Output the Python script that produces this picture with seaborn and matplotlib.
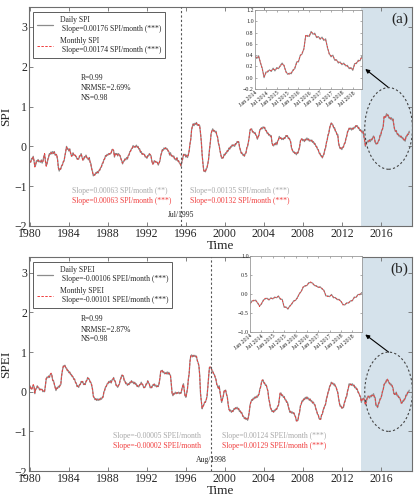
import numpy as np
import pandas as pd
import matplotlib
matplotlib.use("Agg")
import matplotlib.pyplot as plt
from matplotlib.patches import Ellipse
import seaborn as sns

# ---------------- data (monthly, Jan 1980 - Dec 2018) ----------------
start_year = 1980
end_year = 2018

spi_monthly = [
    -0.40,-0.38,-0.33,-0.30,-0.27,-0.35,-0.52,-0.45,-0.38,-0.36,-0.35,-0.37,
    -0.39,-0.38,-0.36,-0.40,-0.38,-0.28,-0.18,-0.35,-0.50,-0.42,-0.35,-0.25,
    -0.20,-0.18,-0.16,-0.18,-0.15,-0.17,-0.15,-0.20,-0.22,-0.20,-0.35,-0.55,
    -0.60,-0.58,-0.55,-0.50,-0.45,-0.40,-0.35,-0.25,-0.12,-0.02,-0.05,-0.08,
    -0.10,-0.08,-0.15,-0.25,-0.22,-0.18,-0.20,-0.24,-0.22,-0.28,-0.30,-0.33,
    -0.30,-0.26,-0.22,-0.20,-0.25,-0.35,-0.32,-0.28,-0.25,-0.24,-0.27,-0.32,
    -0.32,-0.30,-0.38,-0.45,-0.55,-0.65,-0.72,-0.73,-0.70,-0.68,-0.66,-0.65,
    -0.65,-0.62,-0.58,-0.55,-0.50,-0.45,-0.40,-0.35,-0.30,-0.25,-0.23,-0.22,
    -0.20,-0.20,-0.18,-0.20,-0.15,-0.10,-0.07,-0.12,-0.25,-0.20,-0.18,-0.20,
    -0.22,-0.20,-0.20,-0.25,-0.30,-0.38,-0.42,-0.40,-0.35,-0.33,-0.32,-0.30,
    -0.30,-0.25,-0.20,-0.15,-0.10,-0.08,-0.03,0.00,0.00,-0.02,0.00,0.01,
    0.00,-0.02,-0.05,-0.08,-0.13,-0.15,-0.18,-0.20,-0.18,-0.22,-0.25,-0.28,
    -0.28,-0.25,-0.22,-0.20,-0.20,-0.25,-0.35,-0.45,-0.42,-0.38,-0.37,-0.40,
    -0.38,-0.42,-0.45,-0.43,-0.35,-0.25,-0.15,-0.10,-0.08,-0.06,-0.05,-0.05,
    -0.05,-0.08,-0.10,-0.15,-0.20,-0.18,-0.22,-0.25,-0.24,-0.26,-0.30,-0.33,
    -0.33,-0.30,-0.35,-0.38,-0.40,-0.45,-0.48,-0.40,-0.30,-0.22,-0.20,-0.22,
    -0.25,-0.24,-0.26,-0.22,-0.10,0.05,0.19,0.40,0.52,0.55,0.54,0.56,
    0.57,0.58,0.55,0.52,0.55,0.50,0.35,0.10,-0.20,-0.45,-0.60,-0.64,
    -0.62,-0.58,-0.52,-0.45,-0.30,-0.10,0.10,0.30,0.40,0.42,0.40,0.38,
    0.38,0.36,0.30,0.22,0.10,0.00,-0.10,-0.22,-0.28,-0.30,-0.27,-0.22,
    -0.20,-0.18,-0.15,-0.12,-0.10,-0.06,-0.05,-0.02,0.00,0.02,0.03,0.02,
    0.02,0.05,0.08,0.10,0.12,0.10,0.00,-0.10,-0.15,-0.18,-0.20,-0.22,
    -0.23,-0.20,-0.15,-0.05,0.02,0.10,0.25,0.40,0.44,0.42,0.38,0.35,
    0.35,0.33,0.30,0.25,0.20,0.22,0.30,0.40,0.44,0.45,0.46,0.47,
    0.48,0.46,0.42,0.38,0.35,0.32,0.30,0.28,0.27,0.25,0.10,0.02,
    0.03,0.05,0.06,0.08,0.06,0.12,0.18,0.23,0.22,0.20,0.19,0.18,
    0.19,0.20,0.22,0.25,0.27,0.25,0.22,0.19,0.18,0.10,-0.02,-0.10,
    -0.12,-0.15,-0.16,-0.18,-0.19,-0.17,-0.15,-0.10,0.00,0.12,0.19,0.17,
    0.16,0.15,0.14,0.16,0.18,0.19,0.18,0.17,0.15,0.14,0.15,0.14,
    0.12,0.10,0.08,0.05,0.02,-0.02,-0.05,-0.10,-0.15,-0.19,-0.22,-0.25,
    -0.27,-0.25,-0.18,-0.10,-0.02,0.08,0.18,0.27,0.35,0.45,0.55,0.57,
    0.57,0.52,0.48,0.45,0.40,0.35,0.31,0.28,0.10,-0.02,-0.04,-0.05,
    -0.06,-0.04,0.00,0.05,0.10,0.18,0.27,0.35,0.42,0.44,0.45,0.44,
    0.43,0.44,0.45,0.46,0.48,0.50,0.52,0.50,0.48,0.45,0.42,0.40,
    0.37,0.36,0.37,0.28,0.15,0.02,0.08,0.12,0.12,0.13,0.15,0.14,
    0.16,0.18,0.20,0.24,0.23,0.10,0.08,0.06,0.09,0.12,0.18,0.26,
    0.30,0.38,0.44,0.50,0.76,0.73,0.75,0.80,0.79,0.77,0.73,0.71,
    0.70,0.70,0.68,0.67,0.55,0.41,0.39,0.38,0.33,0.30,0.28,0.26,
    0.25,0.24,0.23,0.20,0.18,0.16,0.15,0.23,0.27,0.29,0.32,0.36,
]

spi_daily = [
    -0.38,-0.40,-0.30,-0.32,-0.25,-0.38,-0.50,-0.47,-0.36,-0.38,-0.33,-0.39,
    -0.37,-0.40,-0.34,-0.42,-0.36,-0.26,-0.20,-0.37,-0.48,-0.44,-0.33,-0.27,
    -0.18,-0.20,-0.14,-0.19,-0.13,-0.18,-0.13,-0.22,-0.20,-0.23,-0.33,-0.53,
    -0.62,-0.56,-0.57,-0.48,-0.47,-0.38,-0.37,-0.23,-0.14,0.00,-0.07,-0.06,
    -0.12,-0.06,-0.17,-0.23,-0.24,-0.16,-0.22,-0.22,-0.24,-0.26,-0.32,-0.31,
    -0.32,-0.24,-0.24,-0.18,-0.27,-0.33,-0.34,-0.26,-0.27,-0.22,-0.29,-0.30,
    -0.34,-0.28,-0.40,-0.43,-0.57,-0.63,-0.74,-0.71,-0.72,-0.66,-0.68,-0.63,
    -0.67,-0.60,-0.60,-0.53,-0.52,-0.43,-0.42,-0.33,-0.32,-0.23,-0.25,-0.20,
    -0.22,-0.18,-0.20,-0.18,-0.17,-0.08,-0.09,-0.10,-0.27,-0.18,-0.20,-0.18,
    -0.24,-0.18,-0.22,-0.23,-0.32,-0.36,-0.44,-0.38,-0.37,-0.31,-0.34,-0.28,
    -0.32,-0.23,-0.22,-0.13,-0.12,-0.06,-0.05,0.02,-0.02,0.00,-0.02,0.03,
    -0.02,0.00,-0.07,-0.06,-0.15,-0.13,-0.20,-0.18,-0.20,-0.20,-0.27,-0.26,
    -0.30,-0.23,-0.24,-0.18,-0.22,-0.23,-0.37,-0.43,-0.44,-0.36,-0.39,-0.38,
    -0.40,-0.40,-0.47,-0.41,-0.37,-0.23,-0.17,-0.08,-0.10,-0.04,-0.07,-0.03,
    -0.07,-0.06,-0.12,-0.13,-0.22,-0.16,-0.24,-0.23,-0.26,-0.24,-0.32,-0.31,
    -0.35,-0.28,-0.37,-0.36,-0.42,-0.43,-0.50,-0.38,-0.32,-0.20,-0.22,-0.20,
    -0.27,-0.22,-0.28,-0.20,-0.12,0.07,0.17,0.42,0.50,0.57,0.52,0.58,
    0.55,0.60,0.53,0.54,0.53,0.52,0.33,0.12,-0.22,-0.43,-0.62,-0.62,
    -0.64,-0.56,-0.54,-0.43,-0.32,-0.08,0.08,0.32,0.38,0.44,0.38,0.40,
    0.36,0.38,0.28,0.24,0.08,0.02,-0.12,-0.20,-0.30,-0.28,-0.29,-0.20,
    -0.22,-0.16,-0.17,-0.10,-0.12,-0.04,-0.07,0.00,-0.02,0.04,0.01,0.04,
    0.00,0.07,0.06,0.12,0.10,0.12,-0.02,-0.08,-0.17,-0.16,-0.22,-0.20,
    -0.25,-0.18,-0.17,-0.03,0.00,0.12,0.23,0.42,0.42,0.44,0.36,0.37,
    0.33,0.35,0.28,0.27,0.18,0.24,0.28,0.42,0.42,0.47,0.44,0.49,
    0.46,0.48,0.40,0.40,0.33,0.34,0.28,0.30,0.25,0.27,0.08,0.04,
    0.01,0.07,0.04,0.10,0.04,0.14,0.16,0.25,0.20,0.22,0.17,0.20,
    0.17,0.22,0.20,0.27,0.25,0.27,0.20,0.21,0.16,0.12,-0.04,-0.08,
    -0.14,-0.13,-0.18,-0.16,-0.21,-0.15,-0.17,-0.08,-0.02,0.14,0.17,0.19,
    0.14,0.17,0.12,0.18,0.16,0.21,0.16,0.19,0.13,0.16,0.13,0.16,
    0.10,0.12,0.06,0.07,0.00,0.00,-0.07,-0.08,-0.17,-0.17,-0.24,-0.23,
    -0.29,-0.23,-0.20,-0.08,-0.04,0.10,0.16,0.29,0.33,0.47,0.53,0.59,
    0.55,0.54,0.46,0.47,0.38,0.37,0.29,0.30,0.08,0.00,-0.06,-0.03,
    -0.08,-0.02,-0.02,0.07,0.08,0.20,0.25,0.37,0.40,0.46,0.43,0.46,
    0.41,0.46,0.43,0.48,0.46,0.52,0.50,0.52,0.46,0.47,0.40,0.42,
    0.39,0.34,0.39,0.26,0.17,0.00,0.10,0.10,0.14,0.11,0.17,0.12,
    0.18,0.16,0.22,0.26,0.21,0.12,0.06,0.08,0.07,0.14,0.16,0.28,
    0.28,0.40,0.42,0.52,0.74,0.75,0.73,0.82,0.77,0.79,0.71,0.73,
    0.68,0.72,0.66,0.69,0.53,0.43,0.37,0.40,0.31,0.32,0.26,0.28,
    0.23,0.26,0.21,0.22,0.16,0.18,0.13,0.25,0.25,0.31,0.30,0.38,
]

spei_monthly = [
    0.13,0.10,0.05,0.10,0.18,0.12,-0.03,0.05,0.10,0.13,0.12,0.08,
    0.06,0.05,0.08,0.04,0.02,0.00,0.02,0.15,0.34,0.35,0.37,0.38,
    0.38,0.42,0.47,0.40,0.30,0.26,0.20,0.10,0.05,0.08,0.10,0.12,
    0.13,0.15,0.20,0.40,0.55,0.63,0.67,0.65,0.62,0.58,0.55,0.52,
    0.50,0.48,0.45,0.42,0.40,0.36,0.33,0.30,0.25,0.20,0.15,0.13,
    0.13,0.16,0.20,0.24,0.26,0.24,0.20,0.18,0.20,0.25,0.30,0.34,
    0.34,0.30,0.26,0.22,0.18,0.05,-0.10,-0.16,-0.18,-0.19,-0.20,-0.20,
    -0.20,-0.20,-0.19,-0.18,-0.17,-0.16,-0.12,-0.02,0.05,0.10,0.15,0.18,
    0.22,0.24,0.25,0.26,0.24,0.28,0.32,0.34,0.30,0.25,0.18,0.13,
    0.13,0.15,0.20,0.28,0.35,0.40,0.42,0.38,0.30,0.25,0.22,0.20,
    0.18,0.18,0.20,0.22,0.24,0.26,0.25,0.23,0.22,0.22,0.20,0.18,
    0.15,0.13,0.14,0.16,0.20,0.22,0.20,0.16,0.12,0.10,0.14,0.18,
    0.22,0.26,0.24,0.18,0.12,0.10,0.12,0.15,0.18,0.18,0.16,0.15,
    0.14,0.13,0.15,0.20,0.35,0.50,0.55,0.52,0.50,0.48,0.47,0.46,
    0.47,0.48,0.46,0.47,0.45,0.40,0.20,-0.05,-0.08,-0.06,-0.04,-0.03,
    -0.03,-0.04,-0.02,-0.03,-0.03,-0.04,-0.02,0.05,0.15,0.18,0.05,-0.12,
    -0.12,-0.05,0.10,0.30,0.47,0.75,0.92,0.91,0.90,0.90,0.91,0.90,
    0.90,0.88,0.80,0.72,0.67,0.40,-0.03,-0.25,-0.41,-0.38,-0.32,-0.28,
    -0.25,-0.22,-0.10,0.10,0.40,0.60,0.63,0.60,0.55,0.50,0.47,0.42,
    0.38,0.30,0.20,0.13,0.10,0.13,0.00,-0.15,-0.25,-0.20,-0.10,0.00,
    0.05,0.02,-0.05,-0.15,-0.30,-0.45,-0.47,-0.48,-0.50,-0.50,-0.48,-0.45,
    -0.43,-0.42,-0.41,-0.41,-0.42,-0.44,-0.48,-0.50,-0.52,-0.55,-0.60,-0.64,
    -0.66,-0.67,-0.68,-0.69,-0.70,-0.65,-0.50,-0.35,-0.25,-0.22,-0.20,-0.18,
    -0.16,-0.15,-0.14,-0.13,-0.12,-0.10,-0.05,0.05,0.13,0.22,0.30,0.28,
    0.24,0.20,0.18,0.15,0.10,0.00,-0.16,-0.28,-0.38,-0.45,-0.48,-0.50,
    -0.50,-0.48,-0.46,-0.45,-0.42,-0.38,-0.33,-0.20,-0.03,-0.05,-0.08,-0.10,
    -0.12,-0.14,-0.18,-0.22,-0.25,-0.28,-0.35,-0.45,-0.50,-0.51,-0.52,-0.53,
    -0.53,-0.55,-0.58,-0.65,-0.72,-0.74,-0.70,-0.60,-0.50,-0.37,-0.30,-0.25,
    -0.22,-0.20,-0.18,-0.16,-0.16,-0.15,-0.16,-0.18,-0.20,-0.20,-0.22,-0.25,
    -0.27,-0.28,-0.30,-0.35,-0.42,-0.50,-0.55,-0.60,-0.66,-0.70,-0.68,-0.60,
    -0.55,-0.48,-0.40,-0.37,-0.30,-0.20,-0.10,-0.03,0.05,0.12,0.18,0.22,
    0.22,0.20,0.19,0.18,0.15,0.10,0.05,-0.03,-0.15,-0.30,-0.35,-0.38,
    -0.40,-0.41,-0.38,-0.30,-0.22,-0.16,-0.10,0.00,0.10,0.18,0.19,0.18,
    0.18,0.18,0.17,0.15,0.12,0.10,0.08,0.05,0.00,-0.05,-0.08,-0.15,
    -0.25,-0.20,-0.16,-0.18,-0.22,-0.33,-0.25,-0.18,-0.11,-0.13,-0.14,-0.12,
    -0.11,-0.10,-0.08,-0.07,-0.12,-0.16,-0.33,-0.36,-0.38,-0.33,-0.25,-0.20,
    -0.15,-0.11,0.02,0.05,0.19,0.20,0.24,0.28,0.32,0.27,0.24,0.20,
    0.19,0.17,0.15,0.08,-0.03,-0.07,-0.05,-0.03,-0.08,-0.11,-0.13,-0.16,
    -0.18,-0.29,-0.27,-0.25,-0.22,-0.20,-0.16,-0.10,-0.07,-0.03,0.00,0.02,
]

spei_daily = [
    0.15,0.08,0.07,0.12,0.16,0.14,-0.05,0.07,0.08,0.15,0.10,0.10,
    0.04,0.07,0.06,0.06,0.00,0.02,0.00,0.17,0.32,0.37,0.35,0.40,
    0.36,0.44,0.45,0.42,0.28,0.28,0.18,0.12,0.03,0.10,0.08,0.14,
    0.11,0.17,0.18,0.42,0.53,0.65,0.65,0.67,0.60,0.60,0.53,0.54,
    0.48,0.50,0.43,0.44,0.38,0.38,0.31,0.32,0.23,0.22,0.13,0.15,
    0.11,0.18,0.18,0.26,0.24,0.26,0.18,0.20,0.18,0.27,0.28,0.36,
    0.32,0.32,0.24,0.24,0.16,0.07,-0.12,-0.14,-0.20,-0.17,-0.22,-0.18,
    -0.22,-0.18,-0.21,-0.16,-0.19,-0.14,-0.14,0.00,0.03,0.12,0.13,0.20,
    0.20,0.26,0.23,0.28,0.22,0.30,0.30,0.36,0.28,0.27,0.16,0.15,
    0.11,0.17,0.18,0.30,0.33,0.42,0.40,0.40,0.28,0.27,0.20,0.22,
    0.16,0.20,0.18,0.24,0.22,0.28,0.23,0.25,0.20,0.24,0.18,0.20,
    0.13,0.15,0.12,0.18,0.18,0.24,0.18,0.18,0.10,0.12,0.12,0.20,
    0.20,0.28,0.22,0.20,0.10,0.12,0.10,0.17,0.16,0.20,0.14,0.17,
    0.12,0.15,0.13,0.22,0.33,0.52,0.53,0.54,0.48,0.50,0.45,0.48,
    0.45,0.50,0.44,0.49,0.43,0.42,0.18,-0.03,-0.10,-0.04,-0.06,-0.01,
    -0.05,-0.02,-0.04,-0.01,-0.05,-0.02,-0.04,0.07,0.13,0.20,0.03,-0.10,
    -0.14,-0.03,0.08,0.32,0.45,0.77,0.90,0.93,0.88,0.92,0.89,0.92,
    0.88,0.90,0.78,0.74,0.65,0.42,-0.05,-0.23,-0.43,-0.36,-0.34,-0.26,
    -0.27,-0.20,-0.12,0.12,0.38,0.62,0.61,0.62,0.53,0.52,0.45,0.44,
    0.36,0.32,0.18,0.15,0.08,0.15,-0.02,-0.13,-0.27,-0.18,-0.12,0.02,
    0.03,0.04,-0.07,-0.13,-0.32,-0.43,-0.49,-0.46,-0.52,-0.48,-0.50,-0.43,
    -0.45,-0.40,-0.43,-0.39,-0.44,-0.42,-0.50,-0.48,-0.54,-0.53,-0.62,-0.62,
    -0.68,-0.65,-0.70,-0.67,-0.72,-0.63,-0.52,-0.33,-0.27,-0.20,-0.22,-0.16,
    -0.18,-0.13,-0.16,-0.11,-0.14,-0.08,-0.07,0.07,0.11,0.24,0.28,0.30,
    0.22,0.22,0.16,0.17,0.08,0.02,-0.18,-0.26,-0.40,-0.43,-0.50,-0.48,
    -0.52,-0.46,-0.48,-0.43,-0.44,-0.36,-0.35,-0.18,-0.05,-0.03,-0.10,-0.08,
    -0.14,-0.12,-0.20,-0.20,-0.27,-0.26,-0.37,-0.43,-0.52,-0.49,-0.54,-0.51,
    -0.55,-0.53,-0.60,-0.63,-0.74,-0.72,-0.72,-0.58,-0.52,-0.35,-0.32,-0.23,
    -0.24,-0.18,-0.20,-0.14,-0.18,-0.13,-0.18,-0.16,-0.22,-0.18,-0.24,-0.23,
    -0.29,-0.26,-0.32,-0.33,-0.44,-0.48,-0.57,-0.58,-0.68,-0.68,-0.70,-0.58,
    -0.57,-0.46,-0.42,-0.35,-0.32,-0.18,-0.12,-0.01,0.03,0.14,0.16,0.24,
    0.20,0.22,0.17,0.20,0.13,0.12,0.03,-0.01,-0.17,-0.28,-0.37,-0.36,
    -0.42,-0.39,-0.40,-0.28,-0.24,-0.14,-0.12,0.02,0.08,0.20,0.17,0.20,
    0.16,0.20,0.15,0.17,0.10,0.12,0.06,0.07,-0.02,-0.03,-0.10,-0.13,
    -0.27,-0.18,-0.18,-0.16,-0.24,-0.31,-0.27,-0.16,-0.13,-0.11,-0.16,-0.10,
    -0.13,-0.08,-0.10,-0.05,-0.14,-0.14,-0.35,-0.34,-0.40,-0.31,-0.27,-0.18,
    -0.17,-0.09,0.00,0.07,0.17,0.22,0.22,0.30,0.30,0.29,0.22,0.22,
    0.17,0.19,0.13,0.10,-0.05,-0.05,-0.07,-0.01,-0.10,-0.09,-0.15,-0.14,
    -0.20,-0.27,-0.29,-0.23,-0.24,-0.18,-0.18,-0.08,-0.09,-0.01,-0.02,0.04,
]

main_xticks = [1980, 1984, 1988, 1992, 1996, 2000, 2004, 2008, 2012, 2016]
inset_xlabels = ["Jan 2014", "Jul 2014", "Jan 2015", "Jul 2015", "Jan 2016",
                 "Jul 2016", "Jan 2017", "Jul 2017", "Jan 2018", "Jul 2018"]

panels = [
    dict(name="SPI", daily=spi_daily, monthly=spi_monthly, ylim=(-2, 3.5),
         tag="(a)",
         leg_daily="Daily SPI\n Slope=0.00176 SPI/month (***)",
         leg_monthly="Monthly SPI\n Slope=0.00174 SPI/month (***)",
         stats=["R=0.99", "NRMSE=2.69%", "NS=0.98"], stats_y=[1.72, 1.47, 1.22],
         break_x=1995.5, break_lbl="Jul/1995",
         s1=("Slope=0.00063 SPI/month (**)", "Slope=0.00063 SPI/month (***)"), s1x=1984.3,
         s2=("Slope=0.00135 SPI/month (***)", "Slope=0.00132 SPI/month (***)"), s2x=1996.4,
         ell=(2016.8, 0.45, 4.9, 2.05), inset_ylim=(-0.2, 1.2),
         inset_yticks=[-0.2, 0.0, 0.2, 0.4, 0.6, 0.8, 1.0, 1.2],
         inset_pos=[0.613, 0.822, 0.257, 0.158], arrow_to=(0.878, 0.862)),
    dict(name="SPEI", daily=spei_daily, monthly=spei_monthly, ylim=(-2, 3.4),
         tag="(b)",
         leg_daily="Daily SPEI\n Slope=-0.00106 SPEI/month (***)",
         leg_monthly="Monthly SPEI\n Slope=-0.00101 SPEI/month (***)",
         stats=["R=0.99", "NRMSE=2.87%", "NS=0.98"], stats_y=[1.83, 1.56, 1.32],
         break_x=1998.58, break_lbl="Aug/1998",
         s1=("Slope=-0.00005 SPEI/month", "Slope=-0.00002 SPEI/month"), s1x=1988.5,
         s2=("Slope=0.00124 SPEI/month (***)", "Slope=0.00129 SPEI/month (***)"), s2x=1999.7,
         ell=(2016.8, 0.0, 4.9, 2.0), inset_ylim=(-1.0, 1.0),
         inset_yticks=[-1.0, -0.5, 0.0, 0.5, 1.0],
         inset_pos=[0.601, 0.336, 0.269, 0.152], arrow_to=(0.878, 0.331)),
]

# ---------------- styling ----------------
sns.set_style("ticks")
plt.rcParams["font.family"] = ["Liberation Serif", "DejaVu Serif"]
plt.rcParams["axes.unicode_minus"] = True

GREY = "#8c8c8c"
RED = "#f03c3c"
SHADE = "#d5e2eb"
FRAME = "#6e6e6e"

fig = plt.figure(figsize=(4.16, 5.0), dpi=100)
axes_pos = [[0.0697, 0.548, 0.9207, 0.438], [0.0697, 0.058, 0.9207, 0.428]]

n = (end_year - start_year + 1) * 12
xs = start_year + np.arange(n) / 12.0

for p, pos in zip(panels, axes_pos):
    ax = fig.add_axes(pos)
    df = pd.DataFrame({"t": xs, "daily": p["daily"], "monthly": p["monthly"]})
    ax.axvspan(2014.0, 2019.3, color=SHADE, lw=0, zorder=0)
    sns.lineplot(data=df, x="t", y="daily", ax=ax, color=GREY, lw=0.9,
                 label=p["leg_daily"], zorder=2)
    sns.lineplot(data=df, x="t", y="monthly", ax=ax, color=RED, lw=0.7,
                 linestyle=(0, (2.5, 1.5)), label=p["leg_monthly"], zorder=3)
    ax.set_xlim(1979.9, 2019.2)
    ax.set_ylim(*p["ylim"])
    ax.set_xticks(main_xticks)
    ax.set_yticks([-2, -1, 0, 1, 2, 3])
    ax.tick_params(direction="in", length=3, width=0.6, color=FRAME,
                   labelsize=8.5, top=True, right=True, pad=1.5)
    for s in ax.spines.values():
        s.set_color(FRAME)
        s.set_linewidth(0.8)
    ax.set_xlabel("Time", fontsize=9.5, labelpad=0)
    ax.set_ylabel(p["name"], fontsize=9.5, labelpad=2)

    leg = ax.legend(loc="upper left", bbox_to_anchor=(0.0, 0.995), fontsize=5.5,
                    frameon=True, fancybox=False, edgecolor="#333333",
                    handlelength=2.2, borderpad=0.5, labelspacing=0.5)
    leg.get_frame().set_linewidth(0.7)

    for txt, yy in zip(p["stats"], p["stats_y"]):
        ax.text(1985.2, yy, txt, fontsize=5.5, va="center", ha="left", color="#222222")

    ax.axvline(p["break_x"], color="#555555", lw=0.8, ls=(0, (2, 2)), zorder=4)
    ax.text(p["break_x"], -1.72, p["break_lbl"], fontsize=5.5, ha="center",
            va="center", color="#222222")
    ax.text(p["s1x"], -1.12, p["s1"][0], fontsize=5.5, color="#a8a8a8", va="center")
    ax.text(p["s1x"], -1.36, p["s1"][1], fontsize=5.5, color=RED, va="center")
    ax.text(p["s2x"], -1.12, p["s2"][0], fontsize=5.5, color="#a8a8a8", va="center")
    ax.text(p["s2x"], -1.36, p["s2"][1], fontsize=5.5, color=RED, va="center")

    ax.text(0.99, 0.975, p["tag"], transform=ax.transAxes, fontsize=11,
            ha="right", va="top")

    cx, cy, w, h = p["ell"]
    ax.add_patch(Ellipse((cx, cy), w, h, fill=False, ls=(0, (2, 2)),
                         ec="#444444", lw=0.8, zorder=5))
    ax.annotate("", xy=p["arrow_to"], xycoords="figure fraction",
                xytext=(cx, cy + h / 2), textcoords="data",
                arrowprops=dict(arrowstyle="-|>", color="black", lw=0.8,
                                mutation_scale=6, shrinkA=0, shrinkB=0),
                annotation_clip=False)

    # inset
    ins = fig.add_axes(p["inset_pos"])
    sub = df[df["t"] >= 2014.0]
    sns.lineplot(data=sub, x="t", y="daily", ax=ins, color=GREY, lw=0.8)
    sns.lineplot(data=sub, x="t", y="monthly", ax=ins, color=RED, lw=0.6,
                 linestyle=(0, (2.5, 1.5)))
    ins.set_xlim(2014.0, 2018.92)
    ins.set_ylim(*p["inset_ylim"])
    ins.set_xticks([2014.0 + 0.5 * k for k in range(len(inset_xlabels))])
    ins.set_xticklabels(inset_xlabels, rotation=40, ha="right",
                        rotation_mode="anchor")
    ins.set_yticks(p["inset_yticks"])
    ins.set_yticklabels([f"{v:.1f}".replace("-", "\u2212") for v in p["inset_yticks"]])
    ins.tick_params(direction="in", length=1.5, width=0.4, color=FRAME,
                    labelsize=4.3, pad=1, top=True, right=True)
    ins.set_xlabel("")
    ins.set_ylabel("")
    for s in ins.spines.values():
        s.set_color("#999999")
        s.set_linewidth(0.6)

fig.savefig("out.png", dpi=100)
